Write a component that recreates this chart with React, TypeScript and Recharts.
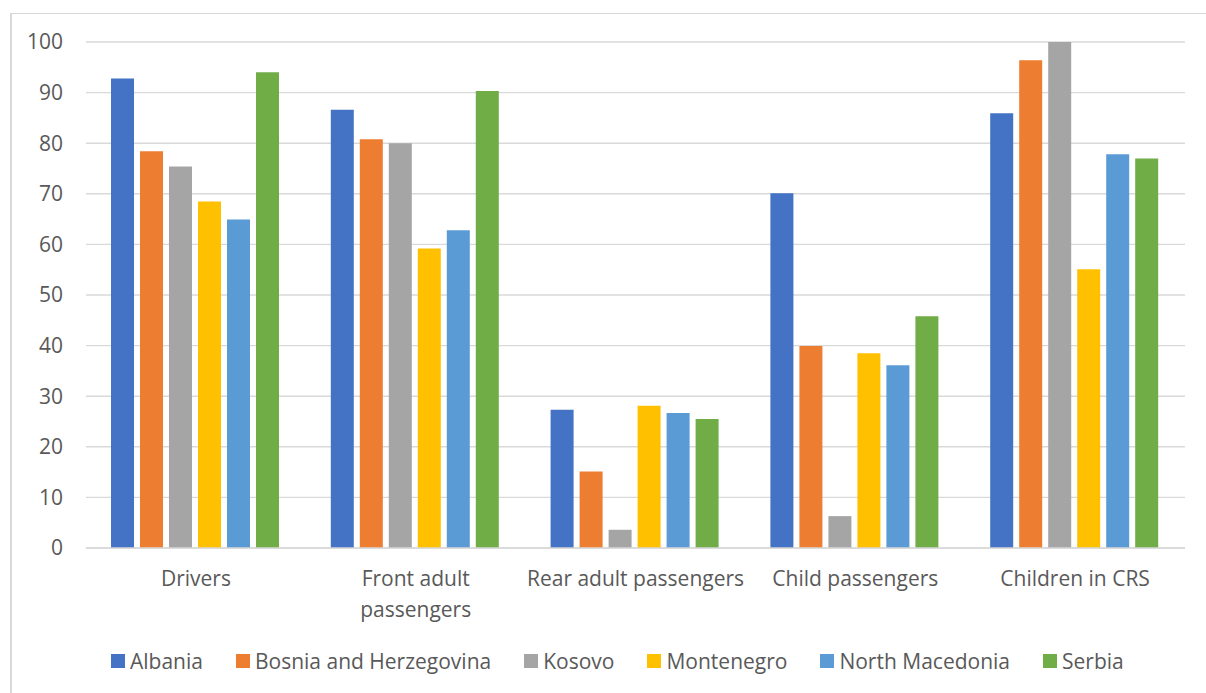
import { BarChart, Bar, XAxis, YAxis, CartesianGrid, Legend } from "recharts";

const categories = [
  "Drivers",
  "Front adult passengers",
  "Rear adult passengers",
  "Child passengers",
  "Children in CRS",
];

// line breaks used under the axis
const tickLines: Record<string, string[]> = {
  "Front adult passengers": ["Front adult", "passengers"],
};

const countries = ["Albania", "Bosnia and Herzegovina", "Kosovo", "Montenegro", "North Macedonia", "Serbia"];
const colors = ["#4472C4", "#ED7D31", "#A5A5A5", "#FFC000", "#5B9BD5", "#70AD47"];

const albania = [92.8, 86.6, 27.3, 70.1, 85.9];
const bosnia = [78.4, 80.8, 15.1, 39.9, 96.4];
const kosovo = [75.4, 80.0, 3.6, 6.3, 100];
const montenegro = [68.5, 59.2, 28.1, 38.5, 55.1];
const northMacedonia = [64.9, 62.8, 26.7, 36.1, 77.8];
const serbia = [94.0, 90.3, 25.5, 45.8, 77.0];

const yTicks = [0, 10, 20, 30, 40, 50, 60, 70, 80, 90, 100];

const series = [albania, bosnia, kosovo, montenegro, northMacedonia, serbia];

const data = categories.map((name, i) => {
  const row: Record<string, string | number> = { name };
  countries.forEach((c, j) => {
    row[c] = series[j][i];
  });
  return row;
});

const FONT = "'Open Sans', sans-serif";
const TEXT = "#595959";
const SIZE = 21;

function CategoryTick(props: any) {
  const { x, y, payload } = props;
  const lines = tickLines[payload.value] ?? [payload.value];
  return (
    <text x={x} y={y + 38} textAnchor="middle" fill={TEXT} fontSize={SIZE} fontFamily={FONT}>
      {lines.map((line, i) => (
        <tspan key={line} x={x} dy={i === 0 ? 0 : 31}>
          {line}
        </tspan>
      ))}
    </text>
  );
}

function LegendBox(props: any) {
  const { payload = [] } = props;
  return (
    <div style={{ display: "flex", justifyContent: "flex-start", alignItems: "center", gap: 33, height: 30, paddingLeft: 111 }}>
      {payload.map((item: any) => (
        <div key={item.value} style={{ display: "flex", alignItems: "center" }}>
          <span style={{ width: 14, height: 14, background: item.color, marginRight: 5, display: "inline-block" }} />
          <span style={{ fontFamily: FONT, fontSize: SIZE, color: TEXT, lineHeight: "30px" }}>{item.value}</span>
        </div>
      ))}
    </div>
  );
}

export default function App() {
  return (
    <div style={{ position: "absolute", left: 0, top: 0, width: 1206, height: 693, background: "#fff", overflow: "hidden" }}>
      <div
        style={{
          position: "absolute",
          left: 10,
          top: 13,
          width: 1210,
          height: 700,
          borderLeft: "2px solid #d9d9d9",
          borderTop: "1px solid #d9d9d9",
        }}
      />
      <BarChart
        width={1206}
        height={693}
        data={data}
        margin={{ top: 42, right: 21, bottom: 40, left: 10 }}
        barCategoryGap={25}
        barGap={6}
      >
        <CartesianGrid vertical={false} stroke="#d9d9d9" strokeWidth={1.4} />
        <XAxis
          dataKey="name"
          height={75}
          interval={0}
          tickLine={false}
          tickSize={0}
          tickMargin={0}
          axisLine={{ stroke: "#d9d9d9", strokeWidth: 1.4 }}
          tick={<CategoryTick />}
        />
        <YAxis
          width={76}
          domain={[0, 100]}
          ticks={yTicks}
          interval={0}
          axisLine={false}
          tickLine={false}
          tickSize={0}
          tickMargin={23}
          tick={{ fill: TEXT, fontSize: SIZE, fontFamily: FONT }}
        />
        <Legend
          verticalAlign="bottom"
          content={<LegendBox />}
          wrapperStyle={{ bottom: 17, left: 0, width: 1206 }}
        />
        {countries.map((c, i) => (
          <Bar key={c} dataKey={c} fill={colors[i]} isAnimationActive={false} />
        ))}
      </BarChart>
    </div>
  );
}
